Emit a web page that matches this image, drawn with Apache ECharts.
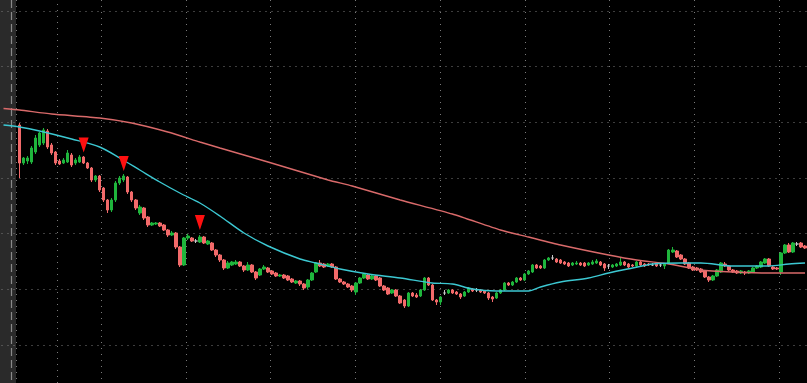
<!DOCTYPE html>
<html><head><meta charset="utf-8">
<script src="https://cdn.jsdelivr.net/npm/echarts@6/dist/echarts.min.js"></script>
<style>html,body{margin:0;padding:0;background:#000;overflow:hidden}#c{width:807px;height:383px}</style>
</head><body><div id="c"></div>
<script>
// ---- data (price units, unlabeled axis) ----
const totalSlots = 201;      // category slots across the plot
const candleStart = 4;       // first slot holding a candle
const opens  = [220,182,184,183,193,200,202,214,200,193,184,182,183,190,182,183,188,182,177,165,169,157,145,135,145,162,165,168,153,145,132,137,128,120,121,122,120,115,110,112,98,80,107,107,104,103,108,101,102,95,90,85,77,80,81,83,79,75,80,73,70,76,77,74,72,69,70,69,66,62,64,61,58,65,73,82,81,79,81,78,66,63,61,59,53,62,67,70,66,69,67,59,57,52,55,49,45,39,52,50,49,55,67,60,45,43,52,52,55,53,51,49,53,56,55,55,54,52,48,47,52,55,62,60,63,67,65,71,73,80,79,77,85,87,86,85,83,82,80,81,82,82,80,81,82,83,81,79,78,79,80,83,81,80,79,83,81,81,80,81,80,79,82,93,94,90,86,82,78,77,76,74,68,65,69,73,81,79,75,74,72,73,72,73,77,78,82,86,78,77,73,92,100,93,101,102,99];
const closes = [182,187,187,197,207,212,215,198,192,182,181,185,192,180,185,188,182,177,165,169,155,145,135,145,162,167,169,153,145,137,138,127,120,122,122,119,115,110,112,98,80,107,109,104,104,108,102,104,95,90,85,77,82,83,83,79,75,80,73,67,76,78,73,71,69,70,67,65,63,64,61,57,65,72,82,79,78,81,78,66,63,61,58,55,62,67,71,66,69,65,59,55,51,55,49,42,39,52,49,48,55,67,60,45,43,48,52,55,52,51,48,53,57,54,55,53,52,47,46,52,55,62,60,63,67,65,71,74,80,77,77,85,87,87,83,82,81,79,82,82,80,79,82,83,84,80,77,79,80,81,83,80,78,79,83,80,79,80,80,79,80,81,95,95,88,86,81,77,75,75,73,68,65,69,75,82,79,75,73,72,74,72,74,77,79,83,86,79,76,76,92,100,93,102,101,98,97];
const lows   = [167,180,181,181,191,198,200,196,190,180,180,181,182,178,180,182,181,176,163,163,153,143,132,133,143,160,163,151,143,135,130,125,118,119,120,118,114,108,109,96,78,79,105,103,102,102,101,100,94,88,83,75,76,79,80,78,73,74,72,65,69,75,72,70,68,68,66,64,62,61,59,55,56,64,72,78,77,78,77,65,62,60,57,53,50,61,66,65,65,64,58,54,50,51,48,41,37,38,48,47,48,54,59,44,40,40,50,51,51,50,46,48,52,53,53,52,51,45,43,46,51,54,59,59,62,64,64,70,72,76,76,76,84,85,82,81,80,78,79,80,79,78,79,80,81,79,74,76,77,78,79,79,77,78,78,79,78,79,79,78,78,76,81,92,87,85,80,76,74,74,72,67,63,64,68,72,78,74,72,71,71,70,71,72,76,77,81,78,75,75,70,91,92,92,99,97,96];
const highs  = [222,188,189,199,210,213,217,216,202,194,186,187,195,192,187,190,189,183,178,170,170,158,146,147,164,169,171,169,154,146,140,138,129,123,123,123,121,116,114,113,99,108,111,108,106,110,109,105,103,96,91,86,84,84,85,84,80,83,81,74,77,80,78,75,73,71,71,70,67,65,65,62,66,73,83,85,82,82,82,79,67,64,62,60,63,68,72,71,70,70,68,60,58,56,56,50,46,53,53,52,56,68,68,61,46,49,55,56,56,54,52,54,58,57,57,56,55,53,49,53,56,63,63,64,68,68,72,75,81,81,80,86,88,90,87,86,84,83,83,84,83,83,83,85,86,84,82,81,81,82,87,84,82,81,84,84,82,82,82,82,81,82,96,98,95,91,87,83,79,78,77,75,69,70,76,83,83,80,76,75,75,74,75,78,80,84,87,87,79,78,93,101,102,103,103,103,100];
// fast moving average (cyan), read at sample slots
const fastMaSlot = [0,4,9,17,24,29,34,39,44,49,54,60,66,74,78,84,91,99,107,112,117,123,131,134,139,146,151,157,162,169,174,182,191,196,200];
const fastMaVal  = [220,218,214,206,198,187,175,163,152,142,129,112,99,86,82,76,71,67,62,61,56,54,54,58,63,67,72,77,81,82,82,79,79,81,82];
// slow moving average (salmon), read at sample slots
const slowMaSlot = [0,4,12,24,32,41,49,54,66,81,87,99,112,124,131,139,151,158,166,174,182,191,200];
const slowMaVal  = [236.5,235,231,227,222,213,203,197,183,165,159,145,131,115,108,100,90,85,81,75,73,72,72];
// signal arrows (slot, price)
const arrowSlot = [20,30,49];
const arrowVal  = [200,181.5,122.5];

// ---- build ----
const cats = Array.from({length: totalSlots}, (_, i) => String(i));
const candles = cats.map((_, i) => {
  const k = i - candleStart;
  if (k < 0 || k >= opens.length) return '-';
  return [opens[k], closes[k], lows[k], highs[k]];
});
const fastMa = fastMaSlot.map((s, i) => [s, fastMaVal[i]]);
const slowMa = slowMaSlot.map((s, i) => [s, slowMaVal[i]]);
const arrows = arrowSlot.map((s, i) => [s, arrowVal[i]]);

const dotted = {color: '#7a7a7a', width: 1, type: [1, 5]};
const chart = echarts.init(document.getElementById('c'), null, {renderer: 'canvas'});
chart.setOption({
  backgroundColor: '#000',
  animation: false,
  graphic: {elements: [
    {type: 'rect', z: -10, shape: {x: 0, y: 0, width: 16, height: 383}, style: {fill: '#2a2a2a'}},
    {type: 'line', z: -9, shape: {x1: 11.5, y1: 0, x2: 11.5, y2: 383}, style: {stroke: '#8a8a8a', lineWidth: 1.2, lineDash: [8, 4]}}
  ]},
  grid: [
    {left: 1.5, right: 0, top: 11, bottom: 38},
    {left: 16.25, right: 0, top: 0, bottom: 0}
  ],
  xAxis: [
    {type: 'category', data: cats, gridIndex: 0, boundaryGap: true,
     axisLine: {show: false}, axisTick: {show: false}, axisLabel: {show: false}, splitLine: {show: false}},
    {type: 'value', gridIndex: 1, min: 0, max: 790.75 / 84.75, interval: 1,
     axisLine: {show: false}, axisTick: {show: false}, axisLabel: {show: false},
     splitLine: {show: true, lineStyle: dotted}}
  ],
  yAxis: [
    {type: 'value', gridIndex: 0, min: 0, max: 334, interval: 334 / 6, scale: false,
     axisLine: {show: false}, axisTick: {show: false}, axisLabel: {show: false},
     splitLine: {show: true, lineStyle: dotted}},
    {type: 'value', gridIndex: 1, min: 0, max: 1, show: false, splitLine: {show: false}}
  ],
  series: [
    {type: 'line', xAxisIndex: 1, yAxisIndex: 1, data: [], silent: true,
     markLine: {silent: true, symbol: 'none', label: {show: false}, lineStyle: dotted,
       data: [{xAxis: (57 - 16.25) / 84.75}]}},
    {type: 'candlestick', xAxisIndex: 0, yAxisIndex: 0, data: candles, barWidth: 3,
     itemStyle: {color: '#1fb53c', color0: '#f26a6a', borderColor: '#1fb53c', borderColor0: '#f26a6a',
                 borderColorDoji: '#c8c8c8', borderWidth: 1}},
    {type: 'line', xAxisIndex: 0, yAxisIndex: 0, data: slowMa, smooth: 0.2, symbol: 'none',
     lineStyle: {color: '#d96a6a', width: 1.4}},
    {type: 'line', xAxisIndex: 0, yAxisIndex: 0, data: fastMa, smooth: 0.3, symbol: 'none',
     lineStyle: {color: '#3cc8d2', width: 1.4}},
    {type: 'scatter', xAxisIndex: 0, yAxisIndex: 0, data: arrows, symbol: 'triangle', symbolRotate: 180,
     symbolSize: [10, 15], itemStyle: {color: '#ff1010', opacity: 1}, z: 5}
  ]
});
</script></body></html>
